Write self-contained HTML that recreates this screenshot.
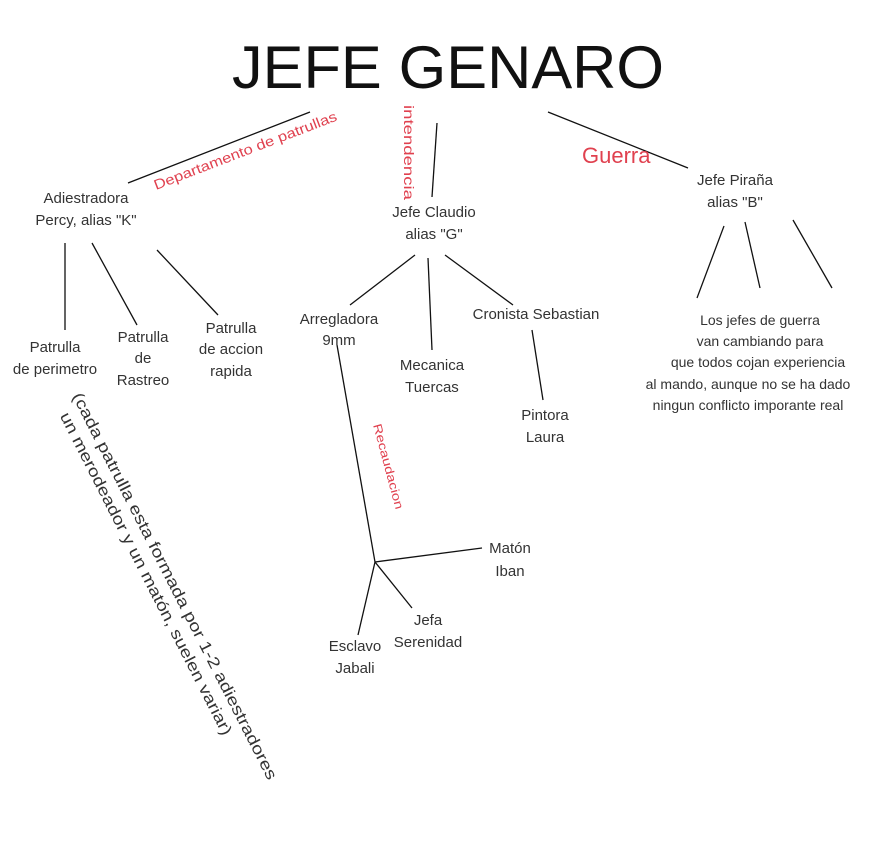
<!DOCTYPE html>
<html><head><meta charset="utf-8"><style>
html,body{margin:0;padding:0;background:#fff;}
svg{display:block;}
text{font-family:"Liberation Sans",sans-serif;fill:#333;}
.n{font-size:15px;text-anchor:middle;}
.s{font-size:14px;text-anchor:middle;}
.r{fill:#e0414f;}
</style></head><body>
<svg width="870" height="850" viewBox="0 0 870 850">
<text x="448" y="88" font-size="60" text-anchor="middle" textLength="432" lengthAdjust="spacingAndGlyphs" style="fill:#111">JEFE GENARO</text>
<g stroke="#111" stroke-width="1.3" fill="none">
<line x1="310" y1="112" x2="128" y2="183"/>
<line x1="437" y1="123" x2="432" y2="197"/>
<line x1="548" y1="112" x2="688" y2="168"/>
<line x1="65" y1="243" x2="65" y2="330"/>
<line x1="92" y1="243" x2="137" y2="325"/>
<line x1="157" y1="250" x2="218" y2="315"/>
<line x1="415" y1="255" x2="350" y2="305"/>
<line x1="428" y1="258" x2="432" y2="350"/>
<line x1="445" y1="255" x2="513" y2="305"/>
<line x1="532" y1="330" x2="543" y2="400"/>
<line x1="337" y1="345" x2="375" y2="562"/>
<line x1="375" y1="562" x2="482" y2="548"/>
<line x1="375" y1="562" x2="358" y2="635"/>
<line x1="375" y1="562" x2="412" y2="608"/>
<line x1="724" y1="226" x2="697" y2="298"/>
<line x1="745" y1="222" x2="760" y2="288"/>
<line x1="793" y1="220" x2="832" y2="288"/>
</g>
<text class="r" font-size="14" transform="translate(156,190) rotate(-21)" textLength="195" lengthAdjust="spacingAndGlyphs">Departamento de patrullas</text>
<text class="r" font-size="14" transform="translate(404,105) rotate(90)" textLength="95" lengthAdjust="spacingAndGlyphs">intendencia</text>
<text class="r" x="582" y="163" font-size="22">Guerra</text>
<text class="r" font-size="12" transform="translate(373,425) rotate(75)" textLength="88" lengthAdjust="spacingAndGlyphs">Recaudacion</text>
<text class="n" x="86" y="203">Adiestradora</text><text class="n" x="86" y="225">Percy, alias "K"</text>
<text class="n" x="434" y="217">Jefe Claudio</text><text class="n" x="434" y="239">alias "G"</text>
<text class="n" x="735" y="185">Jefe Piraña</text><text class="n" x="735" y="207">alias "B"</text>
<text class="n" x="55" y="352">Patrulla</text><text class="n" x="55" y="374">de perimetro</text>
<text class="n" x="143" y="342">Patrulla</text><text class="n" x="143" y="363">de</text><text class="n" x="143" y="385">Rastreo</text>
<text class="n" x="231" y="333">Patrulla</text><text class="n" x="231" y="354">de accion</text><text class="n" x="231" y="376">rapida</text>
<text class="n" x="339" y="324">Arregladora</text><text class="n" x="339" y="345">9mm</text>
<text class="n" x="432" y="370">Mecanica</text><text class="n" x="432" y="392">Tuercas</text>
<text class="n" x="536" y="319">Cronista Sebastian</text>
<text class="n" x="545" y="420">Pintora</text><text class="n" x="545" y="442">Laura</text>
<text class="n" x="510" y="553">Matón</text><text class="n" x="510" y="576">Iban</text>
<text class="n" x="428" y="625">Jefa</text><text class="n" x="428" y="647">Serenidad</text>
<text class="n" x="355" y="651">Esclavo</text><text class="n" x="355" y="673">Jabali</text>
<text class="s" x="760" y="325">Los jefes de guerra</text>
<text class="s" x="760" y="346">van cambiando para</text>
<text class="s" x="758" y="367">que todos cojan experiencia</text>
<text class="s" x="748" y="389">al mando, aunque no se ha dado</text>
<text class="s" x="748" y="410">ningun conflicto imporante real</text>
<g transform="translate(72,396) rotate(63)">
<text font-size="16" x="0" y="0" textLength="432" lengthAdjust="spacingAndGlyphs">(cada patrulla esta formada por 1-2 adiestradores</text>
<text font-size="16" x="12" y="20" textLength="360" lengthAdjust="spacingAndGlyphs">un merodeador y un matón, suelen variar)</text>
</g>
</svg>
</body></html>
